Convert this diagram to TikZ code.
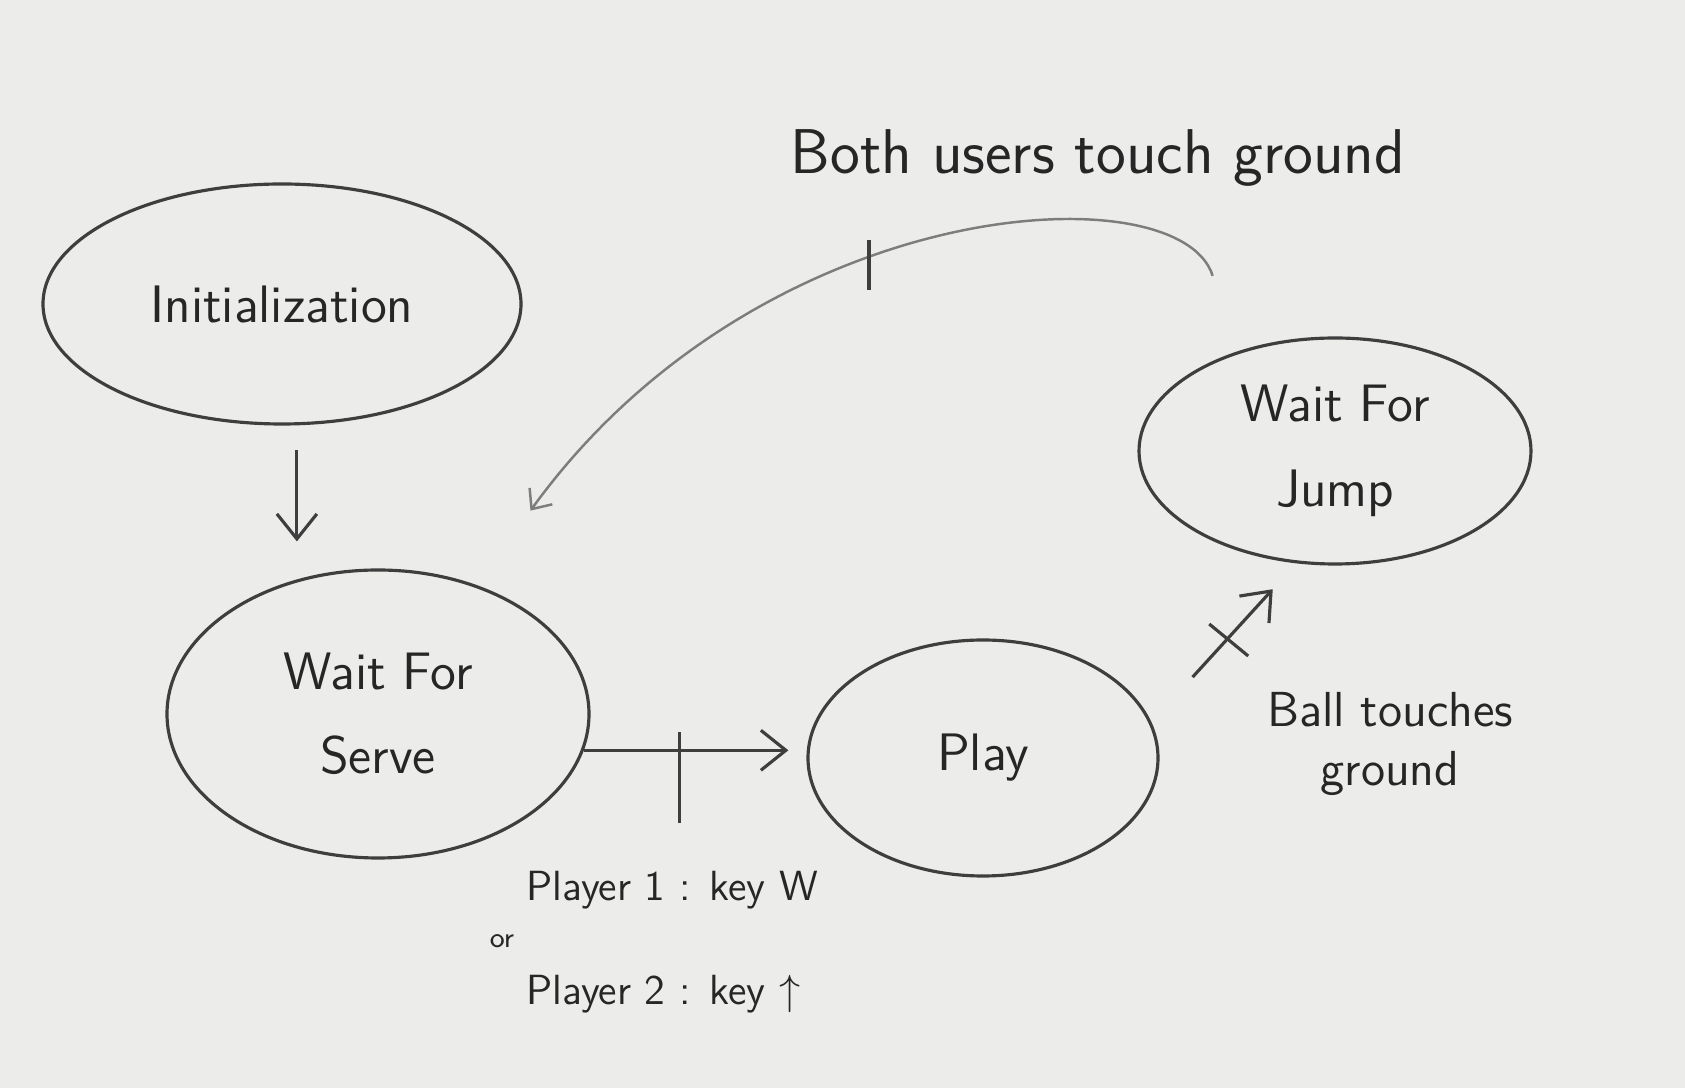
\documentclass[tikz,border=0pt]{standalone}
\usetikzlibrary{shapes.geometric,arrows.meta}
\definecolor{paper}{RGB}{236,236,234}
\definecolor{pencil}{RGB}{62,62,62}
\definecolor{lightpencil}{RGB}{125,125,125}

\begin{document}
\begin{tikzpicture}[
  state/.style={draw=pencil, line width=0.9pt, ellipse, inner sep=0pt, align=center,
    text=black!85, font=\sffamily\fontsize{15}{24}\selectfont},
  arr/.style={draw=pencil, line width=0.9pt, -{Straight Barb[length=2.5mm,width=4mm]}},
  tick/.style={draw=pencil, line width=0.9pt},
  lbl/.style={text=black!85, font=\sffamily\fontsize{12}{14}\selectfont}]
\fill[paper] (0,0) rectangle (16.85,10.88);
\useasboundingbox (0,0) rectangle (16.85,10.88);

% states
\node[state, minimum width=4.78cm, minimum height=2.40cm] (init) at (2.82,7.84) {Initialization};
\node[state, minimum width=4.22cm, minimum height=2.88cm] (serve) at (3.78,3.74) {Wait For\\Serve};
\node[state, minimum width=3.50cm, minimum height=2.36cm] (play) at (9.83,3.30) {Play};
\node[state, minimum width=3.92cm, minimum height=2.26cm] (jump) at (13.35,6.37) {Wait For\\Jump};

% transitions
\draw[arr, shorten <=0.25cm, shorten >=0.27cm] (init.-83) -- (init.-83 |- serve.north);
\draw[arr, shorten >=0.18cm] (serve.-10) -- coordinate[pos=0.43] (t1) (serve.-10 -| play.west);
\draw[tick] (t1) ++(0,0.18) -- ++(0,-0.91);
\draw[arr, shorten <=0.61cm, shorten >=0.35cm] (play.12.5) -- coordinate[pos=0.53] (t2) (jump.251);
\draw[tick] (t2) ++(-0.19,0.14) -- ++(0.39,-0.32);
\draw[draw=lightpencil, line width=0.7pt, -{Straight Barb[length=1.6mm,width=2.8mm]}]
  ([xshift=-0.48cm,yshift=0.69cm]jump.125)
  .. controls (11.80,9.18) and (7.60,8.95) .. coordinate[pos=0.59] (t3)
  ([xshift=0.55cm,yshift=0.74cm]serve.53);
\draw[tick] (t3) ++(0,0.17) -- ++(0,-0.50);

% labels
\node[lbl, font=\sffamily\fontsize{18}{22}\selectfont] (both) at (10.98,9.30) {Both users touch ground};
\node[lbl, anchor=west] (p1) at (5.14,1.98) {Player 1 : key W};
\node[lbl, font=\sffamily\fontsize{8}{10}\selectfont] (or) at (5.02,1.47) {or};
\node[lbl, anchor=west] (p2) at (5.14,0.94) {Player 2 : key $\uparrow$};
\node[lbl, align=center, font=\sffamily\fontsize{14}{17}\selectfont] (ball) at (13.90,3.44) {Ball touches\\ground};

\end{tikzpicture}
\end{document}
